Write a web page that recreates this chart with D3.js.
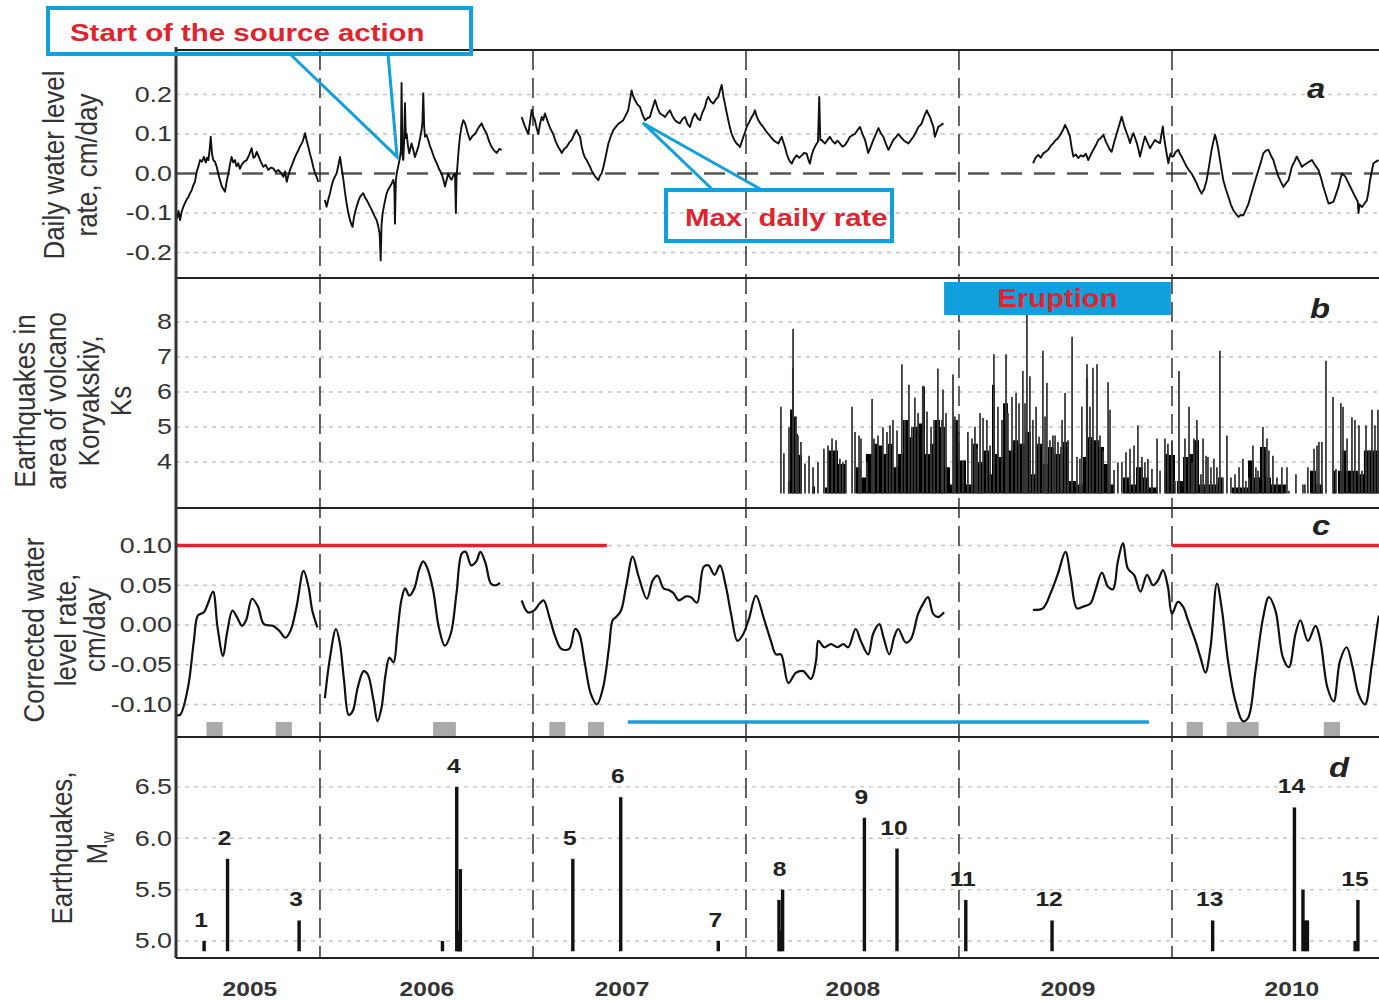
<!DOCTYPE html>
<html>
<head>
<meta charset="utf-8">
<script src="https://cdn.jsdelivr.net/npm/d3@7"></script>
<style>
  html, body { margin: 0; padding: 0; background: #fff; }
  svg { display: block; }
</style>
</head>
<body>
<svg id="chart" width="1379" height="1001"></svg>
<script>
// ---------------- data ----------------
// time is in decimal years

// (a) daily water level rate, cm/day — four observation segments
const dailyRate2005 = [[2005.324,-0.100],[2005.330,-0.112],[2005.336,-0.095],[2005.343,-0.118],[2005.350,-0.098],[2005.358,-0.085],[2005.366,-0.075],[2005.374,-0.066],[2005.382,-0.060],[2005.390,-0.050],[2005.398,-0.042],[2005.405,-0.030],[2005.413,-0.021],[2005.421,0.004],[2005.429,0.018],[2005.437,0.034],[2005.446,0.030],[2005.455,0.042],[2005.464,0.028],[2005.470,0.040],[2005.476,0.034],[2005.482,0.060],[2005.487,0.093],[2005.493,0.050],[2005.499,0.034],[2005.507,0.030],[2005.515,0.017],[2005.527,-0.010],[2005.539,-0.033],[2005.547,-0.040],[2005.554,-0.046],[2005.562,-0.020],[2005.570,0.000],[2005.578,0.025],[2005.585,0.042],[2005.593,0.028],[2005.601,0.034],[2005.608,0.018],[2005.616,0.026],[2005.624,0.012],[2005.632,0.022],[2005.644,0.030],[2005.656,0.034],[2005.668,0.048],[2005.679,0.064],[2005.687,0.040],[2005.695,0.042],[2005.703,0.055],[2005.710,0.046],[2005.722,0.030],[2005.734,0.017],[2005.745,0.022],[2005.757,0.009],[2005.769,0.015],[2005.781,0.013],[2005.792,0.004],[2005.804,0.009],[2005.816,0.002],[2005.828,-0.008],[2005.836,0.005],[2005.844,-0.021],[2005.852,-0.004],[2005.859,0.009],[2005.871,0.025],[2005.883,0.042],[2005.895,0.055],[2005.906,0.068],[2005.918,0.080],[2005.930,0.102],[2005.937,0.085],[2005.945,0.068],[2005.953,0.050],[2005.961,0.034],[2005.969,0.015],[2005.977,0.000],[2005.985,-0.010],[2005.992,-0.021]];

const dailyRate2006 = [[2006.023,-0.067],[2006.031,-0.084],[2006.039,-0.066],[2006.047,-0.050],[2006.055,-0.030],[2006.063,-0.016],[2006.070,-0.008],[2006.078,0.000],[2006.086,0.020],[2006.094,0.042],[2006.102,0.012],[2006.110,-0.016],[2006.118,-0.050],[2006.125,-0.076],[2006.133,-0.100],[2006.141,-0.118],[2006.147,-0.128],[2006.153,-0.135],[2006.160,-0.110],[2006.166,-0.095],[2006.172,-0.084],[2006.180,-0.070],[2006.188,-0.059],[2006.195,-0.055],[2006.203,-0.050],[2006.211,-0.060],[2006.219,-0.067],[2006.227,-0.075],[2006.235,-0.084],[2006.243,-0.092],[2006.250,-0.101],[2006.258,-0.110],[2006.266,-0.118],[2006.274,-0.135],[2006.280,-0.152],[2006.285,-0.220],[2006.289,-0.130],[2006.294,-0.101],[2006.303,-0.075],[2006.313,-0.050],[2006.321,-0.040],[2006.329,-0.033],[2006.337,-0.025],[2006.344,-0.016],[2006.349,-0.030],[2006.352,-0.127],[2006.356,-0.020],[2006.360,0.000],[2006.368,0.020],[2006.376,0.042],[2006.380,0.060],[2006.383,0.229],[2006.387,0.050],[2006.391,0.034],[2006.395,0.080],[2006.399,0.178],[2006.403,0.090],[2006.407,0.101],[2006.413,0.070],[2006.419,0.051],[2006.425,0.065],[2006.430,0.076],[2006.438,0.060],[2006.446,0.042],[2006.454,0.055],[2006.462,0.068],[2006.470,0.090],[2006.477,0.110],[2006.481,0.130],[2006.485,0.203],[2006.489,0.120],[2006.493,0.093],[2006.500,0.098],[2006.508,0.085],[2006.516,0.070],[2006.524,0.059],[2006.536,0.040],[2006.548,0.026],[2006.560,0.010],[2006.571,0.000],[2006.579,-0.015],[2006.587,-0.033],[2006.595,-0.015],[2006.602,0.000],[2006.610,-0.010],[2006.618,-0.016],[2006.626,-0.005],[2006.634,0.000],[2006.638,-0.100],[2006.641,-0.010],[2006.645,0.017],[2006.651,0.060],[2006.657,0.093],[2006.665,0.120],[2006.673,0.135],[2006.681,0.127],[2006.692,0.105],[2006.704,0.085],[2006.716,0.095],[2006.728,0.100],[2006.743,0.115],[2006.759,0.127],[2006.771,0.112],[2006.783,0.100],[2006.795,0.080],[2006.806,0.067],[2006.818,0.058],[2006.830,0.052],[2006.842,0.062],[2006.853,0.060]];

const dailyRate2007 = [[2006.947,0.143],[2006.955,0.130],[2006.962,0.120],[2006.970,0.110],[2006.978,0.100],[2006.986,0.130],[2006.994,0.161],[2007.002,0.145],[2007.009,0.135],[2007.017,0.115],[2007.025,0.100],[2007.033,0.125],[2007.041,0.143],[2007.048,0.135],[2007.056,0.152],[2007.064,0.140],[2007.072,0.127],[2007.083,0.112],[2007.095,0.100],[2007.107,0.080],[2007.119,0.067],[2007.127,0.060],[2007.135,0.052],[2007.146,0.062],[2007.158,0.067],[2007.170,0.078],[2007.182,0.085],[2007.194,0.100],[2007.205,0.110],[2007.213,0.100],[2007.221,0.093],[2007.228,0.070],[2007.236,0.052],[2007.244,0.040],[2007.252,0.034],[2007.260,0.025],[2007.268,0.017],[2007.275,0.008],[2007.283,0.000],[2007.295,-0.010],[2007.307,-0.017],[2007.315,-0.005],[2007.322,0.000],[2007.330,0.015],[2007.338,0.034],[2007.346,0.055],[2007.354,0.076],[2007.366,0.095],[2007.377,0.110],[2007.389,0.118],[2007.401,0.126],[2007.412,0.130],[2007.424,0.135],[2007.436,0.148],[2007.447,0.160],[2007.455,0.185],[2007.463,0.210],[2007.471,0.195],[2007.479,0.186],[2007.490,0.175],[2007.502,0.169],[2007.514,0.150],[2007.526,0.135],[2007.537,0.140],[2007.549,0.143],[2007.561,0.165],[2007.573,0.186],[2007.585,0.165],[2007.596,0.152],[2007.608,0.148],[2007.620,0.143],[2007.631,0.152],[2007.643,0.160],[2007.655,0.145],[2007.667,0.135],[2007.678,0.130],[2007.690,0.127],[2007.702,0.138],[2007.714,0.143],[2007.726,0.125],[2007.737,0.118],[2007.749,0.140],[2007.761,0.152],[2007.773,0.140],[2007.784,0.135],[2007.796,0.155],[2007.808,0.169],[2007.815,0.185],[2007.823,0.194],[2007.835,0.182],[2007.847,0.177],[2007.859,0.188],[2007.870,0.194],[2007.878,0.210],[2007.886,0.224],[2007.894,0.195],[2007.901,0.177],[2007.909,0.155],[2007.917,0.135],[2007.925,0.115],[2007.933,0.100],[2007.945,0.085],[2007.956,0.076],[2007.964,0.072],[2007.972,0.067],[2007.980,0.080],[2007.988,0.093],[2007.996,0.105],[2008.003,0.118],[2008.015,0.130],[2008.027,0.143],[2008.035,0.150],[2008.042,0.160],[2008.050,0.145],[2008.058,0.135],[2008.070,0.125],[2008.081,0.118],[2008.093,0.108],[2008.105,0.100],[2008.117,0.092],[2008.128,0.085],[2008.140,0.080],[2008.152,0.076],[2008.160,0.085],[2008.168,0.093],[2008.175,0.080],[2008.183,0.067],[2008.191,0.050],[2008.199,0.038],[2008.207,0.030],[2008.215,0.025],[2008.226,0.038],[2008.238,0.046],[2008.250,0.040],[2008.262,0.046],[2008.273,0.052],[2008.285,0.050],[2008.293,0.035],[2008.300,0.025],[2008.308,0.045],[2008.316,0.059],[2008.324,0.068],[2008.332,0.076],[2008.338,0.080],[2008.344,0.194],[2008.349,0.085],[2008.355,0.085],[2008.363,0.080],[2008.371,0.076],[2008.383,0.085],[2008.394,0.093],[2008.406,0.082],[2008.418,0.076],[2008.430,0.083],[2008.441,0.076],[2008.453,0.068],[2008.465,0.072],[2008.477,0.082],[2008.488,0.093],[2008.500,0.097],[2008.512,0.100],[2008.524,0.110],[2008.535,0.118],[2008.547,0.100],[2008.559,0.085],[2008.567,0.068],[2008.574,0.052],[2008.586,0.068],[2008.598,0.085],[2008.610,0.100],[2008.622,0.115],[2008.633,0.102],[2008.645,0.093],[2008.657,0.075],[2008.669,0.060],[2008.680,0.072],[2008.692,0.085],[2008.704,0.092],[2008.716,0.100],[2008.727,0.092],[2008.739,0.085],[2008.751,0.080],[2008.763,0.076],[2008.775,0.085],[2008.786,0.093],[2008.798,0.105],[2008.810,0.118],[2008.818,0.122],[2008.825,0.127],[2008.837,0.145],[2008.849,0.160],[2008.857,0.150],[2008.864,0.143],[2008.872,0.130],[2008.880,0.118],[2008.887,0.093],[2008.895,0.105],[2008.903,0.118],[2008.915,0.122],[2008.927,0.127]];

const dailyRate2009 = [[2009.348,0.026],[2009.360,0.040],[2009.372,0.047],[2009.384,0.040],[2009.396,0.051],[2009.407,0.055],[2009.419,0.060],[2009.431,0.070],[2009.443,0.077],[2009.455,0.085],[2009.466,0.090],[2009.478,0.100],[2009.490,0.112],[2009.498,0.123],[2009.510,0.110],[2009.521,0.094],[2009.529,0.065],[2009.537,0.043],[2009.549,0.048],[2009.560,0.039],[2009.572,0.046],[2009.584,0.043],[2009.596,0.050],[2009.607,0.034],[2009.619,0.048],[2009.631,0.060],[2009.643,0.072],[2009.654,0.085],[2009.666,0.090],[2009.678,0.098],[2009.690,0.080],[2009.701,0.068],[2009.709,0.060],[2009.717,0.055],[2009.729,0.080],[2009.741,0.102],[2009.752,0.122],[2009.764,0.144],[2009.776,0.120],[2009.788,0.102],[2009.796,0.090],[2009.803,0.077],[2009.811,0.092],[2009.819,0.102],[2009.827,0.090],[2009.835,0.077],[2009.843,0.060],[2009.850,0.043],[2009.862,0.070],[2009.873,0.094],[2009.885,0.078],[2009.897,0.064],[2009.909,0.075],[2009.920,0.085],[2009.932,0.080],[2009.944,0.077],[2009.951,0.100],[2009.957,0.119],[2009.962,0.095],[2009.967,0.077],[2009.975,0.050],[2009.983,0.026],[2009.988,0.040],[2009.994,0.051],[2010.000,0.043],[2010.006,0.043],[2010.018,0.055],[2010.030,0.060],[2010.037,0.050],[2010.045,0.043],[2010.057,0.030],[2010.069,0.017],[2010.080,0.008],[2010.092,0.000],[2010.104,-0.012],[2010.116,-0.025],[2010.128,-0.040],[2010.139,-0.051],[2010.151,-0.040],[2010.163,-0.017],[2010.175,0.022],[2010.186,0.060],[2010.194,0.080],[2010.202,0.098],[2010.210,0.082],[2010.218,0.060],[2010.229,0.022],[2010.241,-0.017],[2010.253,-0.040],[2010.265,-0.059],[2010.276,-0.078],[2010.288,-0.093],[2010.300,-0.102],[2010.312,-0.110],[2010.323,-0.105],[2010.335,-0.106],[2010.347,-0.092],[2010.359,-0.077],[2010.370,-0.056],[2010.382,-0.034],[2010.394,-0.012],[2010.406,0.009],[2010.418,0.030],[2010.429,0.051],[2010.441,0.058],[2010.453,0.060],[2010.465,0.045],[2010.476,0.034],[2010.488,0.012],[2010.500,-0.008],[2010.512,-0.022],[2010.523,-0.034],[2010.535,-0.025],[2010.547,-0.017],[2010.555,0.000],[2010.563,0.017],[2010.575,0.030],[2010.586,0.043],[2010.598,0.030],[2010.610,0.017],[2010.622,0.022],[2010.633,0.026],[2010.645,0.030],[2010.657,0.034],[2010.665,0.027],[2010.672,0.021],[2010.680,0.015],[2010.688,0.009],[2010.700,-0.012],[2010.711,-0.034],[2010.723,-0.055],[2010.735,-0.076],[2010.747,-0.074],[2010.758,-0.072],[2010.770,-0.053],[2010.782,-0.034],[2010.790,-0.015],[2010.798,0.000],[2010.806,-0.004],[2010.814,-0.008],[2010.822,-0.017],[2010.829,-0.025],[2010.841,-0.038],[2010.853,-0.051],[2010.865,-0.064],[2010.872,-0.070],[2010.876,-0.100],[2010.880,-0.078],[2010.892,-0.085],[2010.904,-0.076],[2010.915,-0.068],[2010.923,-0.045],[2010.930,-0.017],[2010.938,0.005],[2010.946,0.026],[2010.958,0.030],[2010.970,0.034]];

// (b) earthquakes near Koryakskiy volcano, energy class Ks
const ksBase = 3.1;
// background swarm level (step envelope)
const ksSwarm = [[2008.136,3.1],[2008.197,3.45],[2008.207,5.5],[2008.216,6.7],[2008.225,5.3],[2008.235,4.8],[2008.244,4.2],[2008.263,3.1],[2008.310,3.3],[2008.324,3.1],[2008.371,3.27],[2008.385,4.33],[2008.432,3.94],[2008.469,3.1],[2008.516,3.85],[2008.540,3.56],[2008.563,4.23],[2008.596,4.52],[2008.620,4.47],[2008.643,4.23],[2008.667,4.52],[2008.690,3.85],[2008.714,4.23],[2008.737,5.2],[2008.761,4.71],[2008.784,5.0],[2008.808,5.1],[2008.826,6.16],[2008.840,4.23],[2008.864,4.52],[2008.887,5.2],[2008.911,5.0],[2008.934,3.85],[2008.958,3.36],[2008.972,5.2],[2008.995,4.04],[2009.033,3.36],[2009.066,4.52],[2009.089,4.0],[2009.113,4.33],[2009.141,3.65],[2009.155,6.21],[2009.169,4.23],[2009.188,4.14],[2009.207,5.68],[2009.230,4.33],[2009.254,4.62],[2009.277,4.52],[2009.310,4.86],[2009.338,3.65],[2009.362,4.52],[2009.394,3.94],[2009.418,4.43],[2009.446,4.23],[2009.488,4.57],[2009.516,3.46],[2009.549,3.36],[2009.582,4.14],[2009.596,6.41],[2009.606,4.71],[2009.629,4.62],[2009.657,4.43],[2009.681,3.94],[2009.704,3.36],[2009.728,3.1],[2009.770,3.56],[2009.798,3.36],[2009.831,3.85],[2009.864,3.56],[2009.892,3.27],[2009.934,3.1],[2009.967,4.23],[2009.986,4.2],[2010.014,3.1],[2010.023,3.46],[2010.052,4.14],[2010.080,4.23],[2010.103,4.62],[2010.127,3.36],[2010.216,3.56],[2010.239,3.1],[2010.282,3.27],[2010.357,4.04],[2010.385,3.56],[2010.413,4.43],[2010.441,3.56],[2010.465,3.36],[2010.535,3.1],[2010.648,3.75],[2010.676,3.36],[2010.709,3.1],[2010.756,3.75],[2010.770,3.1],[2010.779,3.75],[2010.798,4.33],[2010.817,3.75],[2010.873,3.65],[2010.901,4.33],[2010.972,4.33]];
// individual stronger events
const ksEvents = [[2008.164,5.58],[2008.178,4.25],[2008.202,4.99],[2008.221,7.81],[2008.235,5.30],[2008.244,4.76],[2008.258,4.57],[2008.277,3.96],[2008.296,4.18],[2008.315,3.85],[2008.338,3.99],[2008.366,4.38],[2008.385,4.47],[2008.404,4.67],[2008.423,4.62],[2008.441,4.09],[2008.455,3.99],[2008.469,4.06],[2008.498,5.58],[2008.512,4.86],[2008.531,4.76],[2008.540,4.67],[2008.568,3.99],[2008.592,5.80],[2008.601,4.67],[2008.620,4.76],[2008.643,4.99],[2008.662,4.86],[2008.676,5.05],[2008.690,5.20],[2008.709,4.90],[2008.732,6.79],[2008.746,5.20],[2008.765,6.21],[2008.779,5.01],[2008.793,5.84],[2008.808,5.40],[2008.831,6.18],[2008.850,5.44],[2008.869,5.01],[2008.883,5.20],[2008.901,6.67],[2008.920,5.20],[2008.925,6.07],[2008.939,5.40],[2008.972,6.50],[2008.981,5.30],[2009.000,4.86],[2009.019,4.04],[2009.042,4.86],[2009.061,4.67],[2009.075,5.01],[2009.085,4.38],[2009.099,5.40],[2009.113,5.26],[2009.131,5.20],[2009.146,4.47],[2009.164,7.08],[2009.183,5.58],[2009.202,5.20],[2009.221,7.08],[2009.230,5.39],[2009.249,5.86],[2009.268,5.97],[2009.282,5.68],[2009.300,6.60],[2009.310,5.68],[2009.319,8.24],[2009.333,6.45],[2009.347,5.20],[2009.362,5.58],[2009.376,4.72],[2009.394,7.18],[2009.404,5.30],[2009.413,6.26],[2009.427,4.62],[2009.441,4.76],[2009.451,4.76],[2009.465,4.57],[2009.479,4.43],[2009.484,5.20],[2009.498,5.97],[2009.512,4.62],[2009.531,7.58],[2009.554,4.14],[2009.568,4.09],[2009.577,5.58],[2009.601,6.79],[2009.615,5.58],[2009.629,6.69],[2009.648,6.79],[2009.662,4.76],[2009.676,4.33],[2009.700,6.28],[2009.709,5.49],[2009.728,3.77],[2009.746,3.99],[2009.765,3.99],[2009.784,4.28],[2009.803,4.38],[2009.822,4.47],[2009.840,5.05],[2009.859,4.14],[2009.873,3.99],[2009.887,4.09],[2009.906,3.80],[2009.930,4.67],[2009.944,3.75],[2009.967,4.67],[2009.981,4.52],[2010.000,4.62],[2010.014,3.46],[2010.033,6.60],[2010.061,4.67],[2010.080,5.58],[2010.094,3.99],[2010.103,4.67],[2010.117,5.20],[2010.136,3.65],[2010.146,4.67],[2010.160,4.18],[2010.169,4.14],[2010.183,3.85],[2010.197,4.09],[2010.211,3.85],[2010.225,7.18],[2010.239,3.56],[2010.258,4.76],[2010.277,3.56],[2010.296,3.65],[2010.315,3.85],[2010.333,4.09],[2010.347,3.46],[2010.362,3.56],[2010.380,4.47],[2010.394,3.85],[2010.404,3.75],[2010.427,5.00],[2010.446,4.67],[2010.455,4.33],[2010.474,4.18],[2010.493,3.56],[2010.516,3.85],[2010.540,3.85],[2010.549,3.18],[2010.582,3.65],[2010.615,3.36],[2010.624,3.36],[2010.638,3.85],[2010.667,4.38],[2010.681,4.47],[2010.690,4.57],[2010.704,4.57],[2010.723,6.89],[2010.756,5.86],[2010.770,3.80],[2010.793,5.68],[2010.803,5.58],[2010.822,4.67],[2010.845,5.28],[2010.859,5.20],[2010.878,5.05],[2010.892,3.75],[2010.911,5.05],[2010.925,4.33],[2010.939,5.49],[2010.953,5.05],[2010.967,5.49]];
const eruption = [2008.930, 2009.995];

// (c) corrected water level rate, cm/day
const corrRate2005 = [[2005.324,-0.113],[2005.343,-0.113],[2005.380,-0.079],[2005.408,-0.020],[2005.427,0.012],[2005.455,0.016],[2005.474,0.027],[2005.498,0.042],[2005.519,-0.003],[2005.545,-0.039],[2005.563,-0.011],[2005.589,0.018],[2005.610,0.010],[2005.634,-0.001],[2005.653,0.006],[2005.681,0.033],[2005.709,0.023],[2005.737,0.001],[2005.779,-0.001],[2005.808,-0.007],[2005.838,-0.016],[2005.862,-0.007],[2005.890,0.023],[2005.923,0.068],[2005.946,0.048],[2005.964,0.018],[2005.988,-0.003]];
const corrRate2006 = [[2006.023,-0.092],[2006.047,-0.041],[2006.075,-0.005],[2006.094,-0.024],[2006.113,-0.070],[2006.135,-0.113],[2006.154,-0.108],[2006.177,-0.079],[2006.205,-0.058],[2006.224,-0.062],[2006.252,-0.096],[2006.270,-0.121],[2006.289,-0.104],[2006.308,-0.062],[2006.326,-0.041],[2006.345,-0.047],[2006.363,-0.011],[2006.382,0.031],[2006.400,0.046],[2006.419,0.037],[2006.443,0.046],[2006.465,0.069],[2006.484,0.080],[2006.502,0.073],[2006.531,0.044],[2006.558,-0.003],[2006.586,-0.026],[2006.614,-0.011],[2006.641,0.040],[2006.666,0.090],[2006.684,0.092],[2006.710,0.075],[2006.734,0.080],[2006.753,0.092],[2006.777,0.078],[2006.803,0.052],[2006.826,0.050],[2006.845,0.053]];
const corrRate2007 = [[2006.947,0.031],[2006.976,0.016],[2007.004,0.018],[2007.031,0.027],[2007.050,0.031],[2007.077,0.010],[2007.105,-0.015],[2007.133,-0.030],[2007.170,-0.030],[2007.198,-0.005],[2007.217,-0.011],[2007.244,-0.049],[2007.272,-0.087],[2007.300,-0.100],[2007.329,-0.079],[2007.357,-0.028],[2007.374,0.006],[2007.390,0.010],[2007.413,0.018],[2007.437,0.048],[2007.468,0.086],[2007.496,0.061],[2007.535,0.033],[2007.562,0.056],[2007.585,0.062],[2007.613,0.046],[2007.637,0.044],[2007.660,0.040],[2007.684,0.031],[2007.718,0.036],[2007.742,0.035],[2007.770,0.028],[2007.801,0.073],[2007.824,0.075],[2007.852,0.063],[2007.878,0.075],[2007.906,0.048],[2007.930,0.014],[2007.960,-0.020],[2007.984,-0.013],[2008.012,0.006],[2008.047,0.037],[2008.082,0.010],[2008.117,-0.020],[2008.141,-0.037],[2008.164,-0.037],[2008.199,-0.073],[2008.235,-0.060],[2008.269,-0.058],[2008.305,-0.068],[2008.329,-0.045],[2008.340,-0.020],[2008.368,-0.028],[2008.399,-0.024],[2008.429,-0.028],[2008.457,-0.024],[2008.480,-0.028],[2008.515,-0.005],[2008.539,-0.020],[2008.574,-0.037],[2008.597,-0.011],[2008.626,0.001],[2008.645,-0.015],[2008.673,-0.037],[2008.696,-0.015],[2008.715,-0.005],[2008.750,-0.022],[2008.774,-0.018],[2008.808,0.014],[2008.832,0.027],[2008.855,0.035],[2008.879,0.014],[2008.902,0.010],[2008.930,0.016]];
const corrRate2009 = [[2009.347,0.019],[2009.394,0.021],[2009.430,0.040],[2009.465,0.065],[2009.500,0.092],[2009.524,0.061],[2009.554,0.021],[2009.582,0.023],[2009.617,0.027],[2009.641,0.044],[2009.671,0.066],[2009.700,0.048],[2009.723,0.045],[2009.746,0.080],[2009.770,0.103],[2009.793,0.071],[2009.822,0.063],[2009.852,0.042],[2009.883,0.063],[2009.911,0.050],[2009.934,0.056],[2009.958,0.069],[2009.981,0.048],[2010.000,0.014],[2010.028,0.029],[2010.052,0.023],[2010.075,0.006],[2010.110,-0.020],[2010.134,-0.041],[2010.157,-0.060],[2010.181,-0.028],[2010.211,0.052],[2010.235,0.018],[2010.263,-0.045],[2010.298,-0.096],[2010.333,-0.121],[2010.357,-0.117],[2010.392,-0.058],[2010.427,0.008],[2010.455,0.035],[2010.486,0.018],[2010.521,-0.041],[2010.549,-0.053],[2010.580,-0.011],[2010.603,0.006],[2010.638,-0.020],[2010.674,-0.001],[2010.697,-0.020],[2010.730,-0.079],[2010.759,-0.096],[2010.789,-0.045],[2010.820,-0.028],[2010.848,-0.053],[2010.876,-0.087],[2010.906,-0.100],[2010.937,-0.053],[2010.965,0.002],[2010.972,0.012]];
const thresholdLevel = 0.10;
const thresholdSpans = [[2005.324, 2007.347], [2010.0, 2010.972]];
const lowActivitySpan = [2007.445, 2009.892];
const markedPeriods = [[2005.467,2005.543],[2005.792,2005.868],[2006.531,2006.638],[2007.077,2007.152],[2007.258,2007.333],[2010.069,2010.145],[2010.257,2010.407],[2010.713,2010.789]];

// (d) earthquakes, Mw: [time, Mw, number]
const mwBase = 4.9;
const quakes = [[2005.456,5.0,"1"],[2005.566,5.8,"2"],[2005.902,5.2,"3"],[2006.575,5.0,""],[2006.642,6.5,"4"],[2006.650,5.05,""],[2006.655,5.1,""],[2006.659,5.7,""],[2007.187,5.8,"5"],[2007.412,6.4,"6"],[2007.870,5.0,"7"],[2008.155,5.4,""],[2008.162,5.1,""],[2008.172,5.5,"8"],[2008.556,6.2,"9"],[2008.709,5.9,"10"],[2009.032,5.4,"11"],[2009.437,5.2,"12"],[2010.191,5.2,"13"],[2010.575,6.3,"14"],[2010.615,5.5,""],[2010.627,5.2,""],[2010.636,5.2,""],[2010.860,5.0,""],[2010.873,5.4,"15"]];

// annotation anchors [time, rate]
const sourceStartPoint = [2006.362, 0.042];
const maxRatePoint = [2007.516, 0.128];

// axes
const timeDomain = [2005.324, 2010.972];
const yearStarts = [2006, 2007, 2008, 2009, 2010];
const yearLabels = ["2005", "2006", "2007", "2008", "2009", "2010"];
const yearLabelTimes = [2005.671, 2006.502, 2007.418, 2008.502, 2009.512, 2010.563];
const ticksA = [0.2, 0.1, 0.0, -0.1, -0.2];
const ticksB = [8, 7, 6, 5, 4];
const ticksC = [0.10, 0.05, 0.00, -0.05, -0.10];
const ticksD = [6.5, 6.0, 5.5, 5.0];

// ---------------- drawing ----------------
const FONT = "'Liberation Sans', Arial, Helvetica, sans-serif";
const SX = 1.17;               // lettering is drawn slightly wide
const BLUE = "#12a0dc", RED = "#e0232d", INK = "#333";
const left = 176, right = 1379;
const P = { a: [50, 278], b: [278, 508], c: [508, 737], d: [737, 958] };

const svg = d3.select("#chart");
const x = d3.scaleLinear().domain(timeDomain).range([left, right]);
const yA = d3.scaleLinear().domain([-0.2646, 0.3127]).range([P.a[1], P.a[0]]);
const yB = d3.scaleLinear().domain([2.686, 9.257]).range([P.b[1], P.b[0]]);
const yC = d3.scaleLinear().domain([-0.1409, 0.1472]).range([P.c[1], P.c[0]]);
const yD = d3.scaleLinear().domain([4.8345, 6.986]).range([P.d[1], P.d[0]]);

const defs = svg.append("defs");
Object.entries(P).forEach(([k, [t, b]]) => {
  defs.append("clipPath").attr("id", "clip-" + k)
    .append("rect").attr("x", left).attr("y", t).attr("width", right - left).attr("height", b - t);
});

// gridlines
function grid(y, values) {
  svg.append("g").selectAll("line").data(values).join("line")
    .attr("x1", left).attr("x2", right)
    .attr("y1", d => y(d)).attr("y2", d => y(d))
    .attr("stroke", "#c4c4c4").attr("stroke-width", 1.4).attr("stroke-dasharray", "4,5");
}
grid(yA, ticksA.filter(v => v !== 0));
grid(yB, ticksB);
grid(yC, ticksC);
grid(yD, ticksD);

// zero reference of panel a
svg.append("line").attr("x1", left).attr("x2", right)
  .attr("y1", yA(0)).attr("y2", yA(0))
  .attr("stroke", "#555").attr("stroke-width", 2.6).attr("stroke-dasharray", "21,12");

// year boundaries
svg.append("g").selectAll("line").data(yearStarts).join("line")
  .attr("x1", d => x(d)).attr("x2", d => x(d))
  .attr("y1", P.a[0]).attr("y2", P.d[1])
  .attr("stroke", "#222").attr("stroke-width", 1.4).attr("stroke-dasharray", "20,8");

// (a) daily rate
const lineA = d3.line().x(d => x(d[0])).y(d => yA(d[1]));
svg.append("g").attr("clip-path", "url(#clip-a)")
  .selectAll("path").data([dailyRate2005, dailyRate2006, dailyRate2007, dailyRate2009]).join("path")
  .attr("d", lineA).attr("fill", "none").attr("stroke", "#111")
  .attr("stroke-width", 1.9).attr("stroke-linejoin", "round");

// (b) Ks — swarm envelope and individual events
const gB = svg.append("g").attr("clip-path", "url(#clip-b)");
gB.append("path").datum(ksSwarm)
  .attr("d", d3.area().curve(d3.curveStepAfter)
    .x(d => x(d[0])).y0(yB(ksBase)).y1(d => yB(Math.max(ksBase, d[1]))))
  .attr("fill", "#000");
gB.selectAll("line.ev").data(ksEvents).join("line").attr("class", "ev")
  .attr("x1", d => x(d[0])).attr("x2", d => x(d[0]))
  .attr("y1", yB(ksBase)).attr("y2", d => yB(d[1]))
  .attr("stroke", "#3a3a3a").attr("stroke-width", 1.8);

// (c) corrected rate, thresholds, periods
const gC = svg.append("g").attr("clip-path", "url(#clip-c)");
const bandTop = P.c[1] - 15;
gC.selectAll("rect.per").data(markedPeriods).join("rect").attr("class", "per")
  .attr("x", d => x(d[0])).attr("width", d => x(d[1]) - x(d[0]))
  .attr("y", bandTop).attr("height", P.c[1] - bandTop)
  .attr("fill", "#aaa");
gC.selectAll("line.thr").data(thresholdSpans).join("line").attr("class", "thr")
  .attr("x1", d => x(d[0])).attr("x2", d => x(d[1]))
  .attr("y1", yC(thresholdLevel)).attr("y2", yC(thresholdLevel))
  .attr("stroke", RED).attr("stroke-width", 3.4);
gC.append("line")
  .attr("x1", x(lowActivitySpan[0])).attr("x2", x(lowActivitySpan[1]))
  .attr("y1", bandTop).attr("y2", bandTop)
  .attr("stroke", BLUE).attr("stroke-width", 3.4);
const lineC = d3.line().curve(d3.curveCatmullRom.alpha(0.5)).x(d => x(d[0])).y(d => yC(d[1]));
gC.selectAll("path.corr").data([corrRate2005, corrRate2006, corrRate2007, corrRate2009]).join("path")
  .attr("class", "corr").attr("d", lineC).attr("fill", "none")
  .attr("stroke", "#111").attr("stroke-width", 2.2).attr("stroke-linejoin", "round");

// (d) earthquake magnitudes
const gD = svg.append("g");
gD.selectAll("rect").data(quakes).join("rect")
  .attr("x", d => x(d[0]) - 1.7).attr("width", 3.4)
  .attr("y", d => yD(d[1])).attr("height", d => yD(mwBase) - yD(d[1]))
  .attr("fill", "#111");
gD.selectAll("text").data(quakes.filter(d => d[2])).join("text")
  .attr("transform", d => `translate(${x(d[0]) - 3},${yD(d[1]) - 14}) scale(${SX},1)`)
  .attr("text-anchor", "middle").attr("font-family", FONT).attr("font-weight", "bold")
  .attr("font-size", 21).attr("fill", "#222").text(d => d[2]);

// panel frames
svg.append("g").selectAll("line").data([P.a[0], P.b[0], P.c[0], P.d[0], P.d[1]]).join("line")
  .attr("x1", left).attr("x2", right).attr("y1", d => d).attr("y2", d => d)
  .attr("stroke", "#222").attr("stroke-width", 2);
svg.append("line").attr("x1", left).attr("x2", left).attr("y1", P.a[0] - 3).attr("y2", P.d[1])
  .attr("stroke", "#333").attr("stroke-width", 3);

// y tick labels
const TSX = 1.25;
function yLabels(y, values, digits) {
  const g = svg.append("g").attr("transform", `translate(${left},0)`)
    .call(d3.axisLeft(y).tickValues(values).tickSize(0).tickPadding(0)
      .tickFormat(d => d.toFixed(digits)));
  g.select(".domain").remove();
  g.attr("font-family", FONT).attr("font-size", 21.5);
  g.selectAll("text").attr("x", -4 / TSX).attr("fill", INK)
    .attr("transform", `scale(${TSX},1)`);
}
yLabels(yA, ticksA, 1);
yLabels(yB, ticksB, 0);
yLabels(yC, ticksC, 2);
yLabels(yD, ticksD, 1);

// x axis: year names
const gX = svg.append("g").attr("transform", `translate(0,${P.d[1]})`)
  .call(d3.axisBottom(x).tickValues(yearLabelTimes).tickSize(0).tickPadding(0)
    .tickFormat((d, i) => yearLabels[i]));
gX.select(".domain").remove();
gX.attr("font-family", FONT).attr("font-size", 21).attr("font-weight", "bold");
gX.selectAll("text").attr("dy", null).attr("y", 38).attr("fill", INK)
  .attr("transform", `scale(${SX},1)`).attr("x", 0);
gX.selectAll(".tick").attr("transform", d => `translate(${x(d)},0)`);

// rotated axis titles
function title(lines, cy) {
  lines.forEach(([txt, bx]) => {
    const t = svg.append("text")
      .attr("transform", `translate(${bx},${cy}) scale(${SX},1) rotate(-90)`)
      .attr("text-anchor", "middle").attr("font-family", FONT).attr("font-size", 26)
      .attr("fill", INK);
    if (Array.isArray(txt)) {
      t.append("tspan").text(txt[0]);
      t.append("tspan").attr("font-size", 16).attr("dy", 6).text(txt[1]);
    } else t.text(txt);
  });
}
title([["Daily water level", 64], ["rate, cm/day", 97]], 165);
title([["Earthquakes in", 35], ["area of volcano", 66], ["Koryakskiy,", 99], ["Ks", 131]], 401);
title([["Corrected water", 44], ["level rate,", 76], ["cm/day", 105]], 630);
title([["Earthquakes,", 72], [["M", "w"], 107]], 848);

// panel letters
[["a", 1316, 98], ["b", 1320, 318], ["c", 1321, 535], ["d", 1339, 777]].forEach(([s, px, py]) => {
  svg.append("text").attr("transform", `translate(${px},${py}) scale(${SX},1)`)
    .attr("text-anchor", "middle").attr("font-family", FONT).attr("font-size", 28)
    .attr("font-weight", "bold").attr("font-style", "italic").attr("fill", "#222").text(s);
});

// eruption period
const erX0 = x(eruption[0]), erX1 = x(eruption[1]);
svg.append("rect").attr("x", erX0).attr("y", P.b[0] + 4).attr("width", erX1 - erX0).attr("height", 33)
  .attr("fill", BLUE);
svg.append("text").attr("transform", `translate(${(erX0 + erX1) / 2},${P.b[0] + 29}) scale(${SX},1)`)
  .attr("text-anchor", "middle").attr("font-family", FONT).attr("font-size", 25)
  .attr("font-weight", "bold").attr("fill", RED).text("Eruption");

// callouts
function callout(box, base, point, txt, tx, ty) {
  const px = x(point[0]), py = yA(point[1]);
  svg.append("rect").attr("x", box[0]).attr("y", box[1]).attr("width", box[2]).attr("height", box[3])
    .attr("fill", "none").attr("stroke", BLUE).attr("stroke-width", 4);
  svg.append("path")
    .attr("d", `M${base[0]},${base[2]}L${px},${py}L${base[1]},${base[2]}`)
    .attr("fill", "none").attr("stroke", BLUE).attr("stroke-width", 3).attr("stroke-linejoin", "miter");
  svg.append("text").attr("transform", `translate(${tx},${ty}) scale(${SX * 1.07},1)`)
    .attr("font-family", FONT).attr("font-size", 23.5).attr("font-weight", "bold")
    .attr("fill", RED).attr("xml:space", "preserve").style("white-space", "pre").text(txt);
}
callout([48, 8, 423, 46], [290, 388, 54], sourceStartPoint, "Start of the source action", 70, 41);
callout([666, 190, 226, 51], [713, 762, 190], maxRatePoint, "Max  daily rate", 685, 226);
</script>
</body>
</html>
